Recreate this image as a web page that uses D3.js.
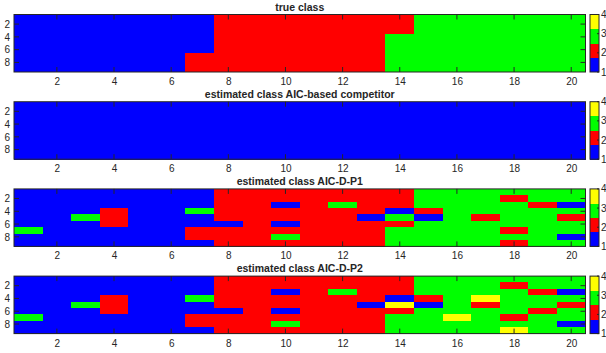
<!DOCTYPE html>
<html>
<head>
<meta charset="utf-8">
<script src="https://cdn.jsdelivr.net/npm/d3@7"></script>
<style>
  body { margin: 0; background: #fff; }
  text { font-family: "Liberation Sans", Arial, sans-serif; fill: #262626; }
</style>
</head>
<body>
<div id="chart"><svg></svg></div>
<script>
// class labels per row (rows 1..9), columns 1..20
const trueClass = [
  [1,1,1,1,1,1,1,2,2,2,2,2,2,2,3,3,3,3,3,3],
  [1,1,1,1,1,1,1,2,2,2,2,2,2,2,3,3,3,3,3,3],
  [1,1,1,1,1,1,1,2,2,2,2,2,2,2,3,3,3,3,3,3],
  [1,1,1,1,1,1,1,2,2,2,2,2,2,3,3,3,3,3,3,3],
  [1,1,1,1,1,1,1,2,2,2,2,2,2,3,3,3,3,3,3,3],
  [1,1,1,1,1,1,1,2,2,2,2,2,2,3,3,3,3,3,3,3],
  [1,1,1,1,1,1,2,2,2,2,2,2,2,3,3,3,3,3,3,3],
  [1,1,1,1,1,1,2,2,2,2,2,2,2,3,3,3,3,3,3,3],
  [1,1,1,1,1,1,2,2,2,2,2,2,2,3,3,3,3,3,3,3]
];

const aicCompetitor = [
  [1,1,1,1,1,1,1,1,1,1,1,1,1,1,1,1,1,1,1,1],
  [1,1,1,1,1,1,1,1,1,1,1,1,1,1,1,1,1,1,1,1],
  [1,1,1,1,1,1,1,1,1,1,1,1,1,1,1,1,1,1,1,1],
  [1,1,1,1,1,1,1,1,1,1,1,1,1,1,1,1,1,1,1,1],
  [1,1,1,1,1,1,1,1,1,1,1,1,1,1,1,1,1,1,1,1],
  [1,1,1,1,1,1,1,1,1,1,1,1,1,1,1,1,1,1,1,1],
  [1,1,1,1,1,1,1,1,1,1,1,1,1,1,1,1,1,1,1,1],
  [1,1,1,1,1,1,1,1,1,1,1,1,1,1,1,1,1,1,1,1],
  [1,1,1,1,1,1,1,1,1,1,1,1,1,1,1,1,1,1,1,1]
];

const aicDP1 = [
  [1,1,1,1,1,1,1,2,2,2,2,2,2,2,3,3,3,3,3,3],
  [1,1,1,1,1,1,1,2,2,2,2,2,2,2,3,3,3,2,3,3],
  [1,1,1,1,1,1,1,2,2,1,2,3,2,2,3,3,3,3,2,1],
  [1,1,1,2,1,1,3,2,2,2,2,2,2,1,2,3,3,3,3,3],
  [1,1,3,2,1,1,1,2,2,2,2,2,1,3,1,3,2,3,3,2],
  [1,1,1,2,1,1,1,1,2,1,2,2,2,2,3,3,3,3,3,3],
  [3,1,1,1,1,1,2,2,2,2,2,2,2,3,3,3,3,2,3,3],
  [1,1,1,1,1,1,2,2,2,3,2,2,2,3,3,3,3,3,3,1],
  [1,1,1,1,1,1,1,2,2,2,2,2,2,3,3,3,3,2,3,3]
];

const aicDP2 = [
  [1,1,1,1,1,1,1,2,2,2,2,2,2,2,3,3,3,3,3,3],
  [1,1,1,1,1,1,1,2,2,2,2,2,2,2,3,3,3,2,3,3],
  [1,1,1,1,1,1,1,2,2,1,2,3,2,2,3,3,3,3,2,1],
  [1,1,1,2,1,1,3,2,2,2,2,2,2,1,2,3,4,3,3,3],
  [1,1,3,2,1,1,1,2,2,2,2,2,1,4,1,3,2,3,3,2],
  [1,1,1,2,1,1,1,1,2,1,2,2,2,2,3,3,3,3,2,3],
  [3,1,1,1,1,1,2,2,2,2,2,2,2,3,3,4,3,2,3,3],
  [1,1,1,1,1,1,2,2,2,3,2,2,2,3,3,3,3,3,3,1],
  [1,1,1,1,1,1,1,2,2,2,2,2,2,3,3,3,3,4,3,3]
];

const titles = ["true class", "estimated class AIC-based competitor",
                "estimated class AIC-D-P1", "estimated class AIC-D-P2"];
const xTicks = [2,4,6,8,10,12,14,16,18,20];
const yTicks = [2,4,6,8];
const classValues = [1,2,3,4];
const classColors = ["#0000ff", "#ff0000", "#00ff00", "#ffff00"];

const width = 606, height = 353;
const margin = {left: 14, right: 20.5};
const panelTop = [14.5, 101.7, 188.9, 276.1];
const panelH = 57.5;
const axisColor = "#262626";
const tickLen = 5;

const svg = d3.select("#chart").select("svg")
    .attr("width", width)
    .attr("height", height);

const x = d3.scaleLinear().domain([0.5, 20.5]).range([margin.left, width - margin.right]);
const color = d3.scaleOrdinal().domain(classValues).range(classColors);

// colorbar position
const cbX = 590, cbW = 9;

const panels = [trueClass, aicCompetitor, aicDP1, aicDP2];

panels.forEach(function(grid, p){
    const top = panelTop[p];
    const y = d3.scaleLinear().domain([0.5, 9.5]).range([top, top + panelH]);
    const g = svg.append("g");

    const cells = [];
    grid.forEach(function(row, r){
        row.forEach(function(v, c){
            cells.push({row: r + 1, col: c + 1, v: v});
        });
    });

    g.selectAll("rect.cell").data(cells)
        .enter()
        .append("rect")
        .attr("class", "cell")
        .attr("x", function(d){ return x(d.col - 0.5); })
        .attr("y", function(d){ return y(d.row - 0.5); })
        .attr("width", function(d){ return x(d.col + 0.5) - x(d.col - 0.5) + 0.3; })
        .attr("height", function(d){ return y(d.row + 0.5) - y(d.row - 0.5) + 0.3; })
        .attr("fill", function(d){ return color(d.v); })
        .attr("shape-rendering", "crispEdges");

    // bottom axis labels
    const xAxis = d3.axisBottom(x).tickValues(xTicks).tickSize(0).tickPadding(0);
    const xa = g.append("g")
        .attr("transform", "translate(0," + (top + panelH + 4) + ")")
        .call(xAxis);
    xa.select(".domain").remove();
    xa.selectAll("text").attr("font-size", 10).attr("fill", axisColor).attr("dy", "0.9em");

    const yAxis = d3.axisLeft(y).tickValues(yTicks).tickSize(0).tickPadding(0);
    const ya = g.append("g")
        .attr("transform", "translate(" + (margin.left - 4) + ",0)")
        .call(yAxis);
    ya.select(".domain").remove();
    ya.selectAll("text").attr("font-size", 10).attr("fill", axisColor);

    // inward ticks on all four sides
    const tickG = g.append("g").attr("stroke", axisColor).attr("stroke-width", 1);
    xTicks.forEach(function(t){
        tickG.append("line").attr("x1", x(t)).attr("x2", x(t))
            .attr("y1", top + panelH).attr("y2", top + panelH - tickLen);
        tickG.append("line").attr("x1", x(t)).attr("x2", x(t))
            .attr("y1", top).attr("y2", top + tickLen);
    });
    yTicks.forEach(function(t){
        tickG.append("line").attr("x1", x(0.5)).attr("x2", x(0.5) + tickLen)
            .attr("y1", y(t)).attr("y2", y(t));
        tickG.append("line").attr("x1", x(20.5)).attr("x2", x(20.5) - tickLen)
            .attr("y1", y(t)).attr("y2", y(t));
    });

    g.append("rect")
        .attr("x", x(0.5)).attr("y", top)
        .attr("width", x(20.5) - x(0.5)).attr("height", panelH)
        .attr("fill", "none").attr("stroke", axisColor).attr("stroke-width", 1);

    g.append("text")
        .attr("x", (x(0.5) + x(20.5)) / 2)
        .attr("y", top - 4)
        .attr("text-anchor", "middle")
        .attr("font-size", 10.5)
        .attr("font-weight", "bold")
        .attr("fill", "#000")
        .text(titles[p]);

    // colorbar, range 1..4 split into 4 equal bands
    const cb = d3.scaleLinear().domain([1, 4]).range([top + panelH, top]);
    const bandH = (cb(1) - cb(4)) / classValues.length;
    g.selectAll("rect.cb").data(classValues)
        .enter()
        .append("rect")
        .attr("class", "cb")
        .attr("x", cbX)
        .attr("y", function(d, i){ return cb(1) - (i + 1) * bandH; })
        .attr("width", cbW)
        .attr("height", bandH + 0.3)
        .attr("fill", function(d){ return color(d); })
        .attr("shape-rendering", "crispEdges");
    g.append("rect")
        .attr("x", cbX).attr("y", top).attr("width", cbW).attr("height", panelH)
        .attr("fill", "none").attr("stroke", axisColor).attr("stroke-width", 1);
    classValues.forEach(function(v){
        g.append("line").attr("x1", cbX + cbW).attr("x2", cbX + cbW - 2)
            .attr("y1", cb(v)).attr("y2", cb(v))
            .attr("stroke", axisColor);
        g.append("text")
            .attr("x", cbX + cbW + 2)
            .attr("y", cb(v))
            .attr("dy", "0.35em")
            .attr("font-size", 10)
            .text(v);
    });
});
</script>
</body>
</html>
